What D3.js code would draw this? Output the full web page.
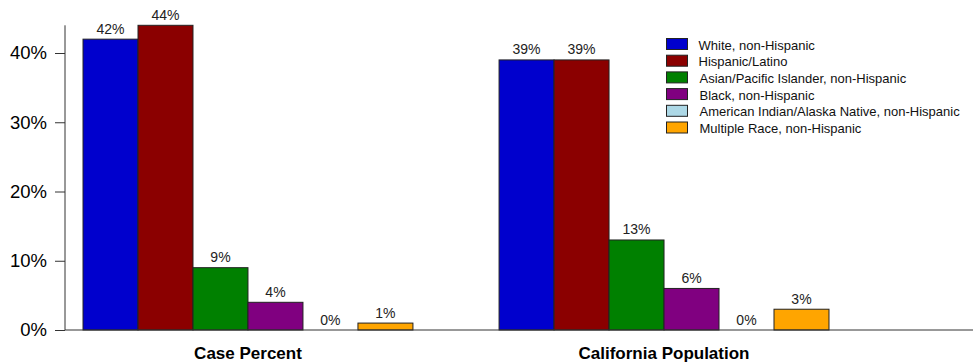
<!DOCTYPE html>
<html><head><meta charset="utf-8">
<script src="https://cdn.jsdelivr.net/npm/d3@7"></script>
<style>body{margin:0;background:#fff}svg{display:block;font-family:"Liberation Sans",Arial,sans-serif}</style>
</head><body><svg id="c" width="973" height="362"></svg>
<script>
const groups = ["Case Percent", "California Population"];
const races = ["White, non-Hispanic","Hispanic/Latino","Asian/Pacific Islander, non-Hispanic","Black, non-Hispanic","American Indian/Alaska Native, non-Hispanic","Multiple Race, non-Hispanic"];
const colors = ["#0000CD","#8B0000","#008000","#800080","#ADD8E6","#FFA500"];
const casePercent = [42,44,9,4,0,1];
const caPopulation = [39,39,13,6,0,3];
const yTicks = [0,10,20,30,40];
const values = [casePercent, caPopulation];

const svg = d3.select("#c");
const y = d3.scaleLinear().domain([0,44]).range([330,25.3]);
const x0 = d3.scaleBand().domain(groups).range([65,847]).paddingInner(0.207).paddingOuter(0.0433);
const x1 = d3.scaleBand().domain(races).range([0,x0.bandwidth()]);

// axes
const ya = svg.append("g").attr("transform","translate(65,0)")
  .call(d3.axisLeft(y).tickValues(yTicks).tickFormat(d=>d+"%").tickSizeOuter(0).tickSize(10));
ya.select(".domain").attr("d","M0,"+y(44)+"V330").attr("stroke","#333");
ya.selectAll(".tick line").attr("stroke","#333");
ya.selectAll(".tick text").attr("font-size",18.5).attr("fill","#000").attr("font-family","Liberation Sans, Arial, sans-serif").attr("dx",-5);

groups.forEach((g,gi)=>{
  const gg = svg.append("g").attr("transform","translate("+x0(g)+",0)");
  gg.selectAll("rect").data(values[gi]).join("rect")
    .attr("x",(d,i)=>x1(races[i])).attr("width",x1.bandwidth())
    .attr("y",d=>y(d)).attr("height",d=>330-y(d))
    .attr("fill",(d,i)=>colors[i]).attr("stroke","#222").attr("stroke-width",1);
  gg.selectAll("text").data(values[gi]).join("text")
    .attr("x",(d,i)=>x1(races[i])+x1.bandwidth()/2).attr("y",d=>y(d)-5.5)
    .attr("text-anchor","middle").attr("font-size",14).attr("fill","#222").text(d=>d+"%");
  svg.append("text").attr("x",x0(g)+x0.bandwidth()/2).attr("y",359)
    .attr("text-anchor","middle").attr("font-size",17).attr("font-weight","bold").text(g);
});

svg.append("line").attr("x1",65).attr("x2",973).attr("y1",330).attr("y2",330).attr("stroke","#333");

// legend
const lg = svg.append("g").attr("transform","translate(666.5,38.5)");
races.forEach((r,i)=>{
  lg.append("rect").attr("x",0).attr("y",i*16.7).attr("width",21).attr("height",11)
    .attr("fill",colors[i]).attr("stroke","#222");
  lg.append("text").attr("x",i<2?32:33).attr("y",i*16.7+11).attr("font-size",13).attr("fill","#111").text(r);
});
</script></body></html>
